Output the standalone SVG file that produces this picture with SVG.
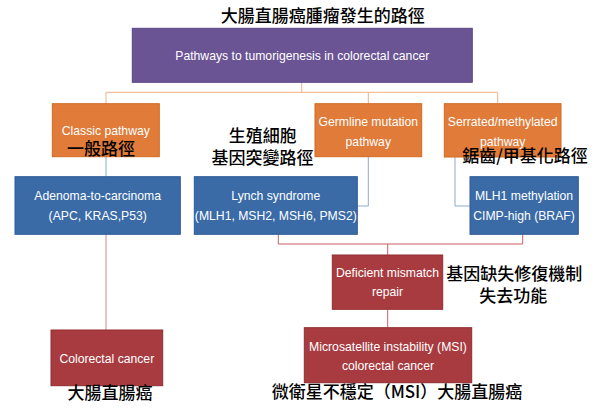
<svg xmlns="http://www.w3.org/2000/svg" width="600" height="413" viewBox="0 0 600 413">
<style>
.bx{stroke-width:1}
.purple{fill:#6B5494;stroke:#5B4584}
.orange{fill:#E07B39;stroke:#D2691F}
.blue{fill:#3A6BA7;stroke:#2C5B95}
.red{fill:#A83B3F;stroke:#922C30}
.wt{font-family:"Liberation Sans",Arial,sans-serif;font-size:12.2px;fill:#FFFFFF;text-anchor:middle}
.cjk{font-family:"Noto Sans CJK TC","Noto Sans CJK SC",sans-serif;font-size:17px;font-weight:500;fill:#000000;text-anchor:middle}
.lo{fill:none;stroke:#F4B183;stroke-width:1}
.lb{fill:none;stroke:#8EA9D0;stroke-width:1}
.lr{fill:none;stroke:#C95F64;stroke-width:1}
.lp{fill:none;stroke:#D99A9E;stroke-width:1.2}
</style>
<rect width="600" height="413" fill="#FFFFFF"/>
<g id="connectors">
<path class="lo" d="M301.7,82.3V92.3M106,103.7V92.3H497.7V103.7M368.3,92.3V103.7"/>
<path class="lb" d="M106,156.7V176.7M368.3,156.7V206H357.3M455,157V206H470"/>
<path class="lp" d="M106,234.3V330"/>
<path class="lr" d="M278.3,234.3V244H522.7V234.3M387.7,244V255M387.7,309.3V327.7"/>
</g>
<g id="root">
<rect class="bx purple" x="132.3" y="28.3" width="340" height="54"/>
<text class="wt" x="302.3" y="59.5">Pathways to tumorigenesis in colorectal cancer</text>
</g>
<g id="classic">
<rect class="bx orange" x="52.3" y="103.7" width="107" height="53"/>
<text class="wt" x="105.8" y="135">Classic pathway</text>
</g>
<g id="germline">
<rect class="bx orange" x="315" y="103.7" width="106.7" height="53"/>
<text class="wt" x="368.3" y="125.7">Germline mutation</text>
<text class="wt" x="368.3" y="146">pathway</text>
</g>
<g id="serrated">
<rect class="bx orange" x="444.3" y="103.7" width="116.7" height="53.3"/>
<text class="wt" x="502.7" y="125.7">Serrated/methylated</text>
<text class="wt" x="502.7" y="146">pathway</text>
</g>
<g id="adenoma">
<rect class="bx blue" x="15" y="176.7" width="165.3" height="57.6"/>
<text class="wt" x="97.7" y="200">Adenoma-to-carcinoma</text>
<text class="wt" x="97.7" y="220">(APC, KRAS,P53)</text>
</g>
<g id="lynch">
<rect class="bx blue" x="194.3" y="176.7" width="163" height="57.6"/>
<text class="wt" x="275.8" y="200">Lynch syndrome</text>
<text class="wt" x="275.8" y="220">(MLH1, MSH2, MSH6, PMS2)</text>
</g>
<g id="mlh1">
<rect class="bx blue" x="470" y="176.7" width="108.3" height="57.6"/>
<text class="wt" x="524" y="200">MLH1 methylation</text>
<text class="wt" x="524" y="220">CIMP-high (BRAF)</text>
</g>
<g id="deficient">
<rect class="bx red" x="332.3" y="255" width="110.4" height="54.3"/>
<text class="wt" x="387.5" y="276.5">Deficient mismatch</text>
<text class="wt" x="387.5" y="296">repair</text>
</g>
<g id="msi">
<rect class="bx red" x="304.3" y="327.7" width="167.4" height="55"/>
<text class="wt" x="388" y="351">Microsatellite instability (MSI)</text>
<text class="wt" x="388" y="370">colorectal cancer</text>
</g>
<g id="colorectal">
<rect class="bx red" x="51" y="330" width="111.7" height="55.7"/>
<text class="wt" x="106.8" y="362.5">Colorectal cancer</text>
</g>
<g id="labels">
<text class="cjk" x="322.8" y="22">大腸直腸癌腫瘤發生的路徑</text>
<text class="cjk" x="101" y="154.5">一般路徑</text>
<text class="cjk" x="262.8" y="142">生殖細胞</text>
<text class="cjk" x="262.5" y="164">基因突變路徑</text>
<text class="cjk" x="525" y="162">鋸齒/甲基化路徑</text>
<text class="cjk" x="514.2" y="280">基因缺失修復機制</text>
<text class="cjk" x="513.3" y="301.5">失去功能</text>
<text class="cjk" x="110" y="399">大腸直腸癌</text>
<text class="cjk" x="397" y="398">微衛星不穩定（MSI）大腸直腸癌</text>
</g>
</svg>
